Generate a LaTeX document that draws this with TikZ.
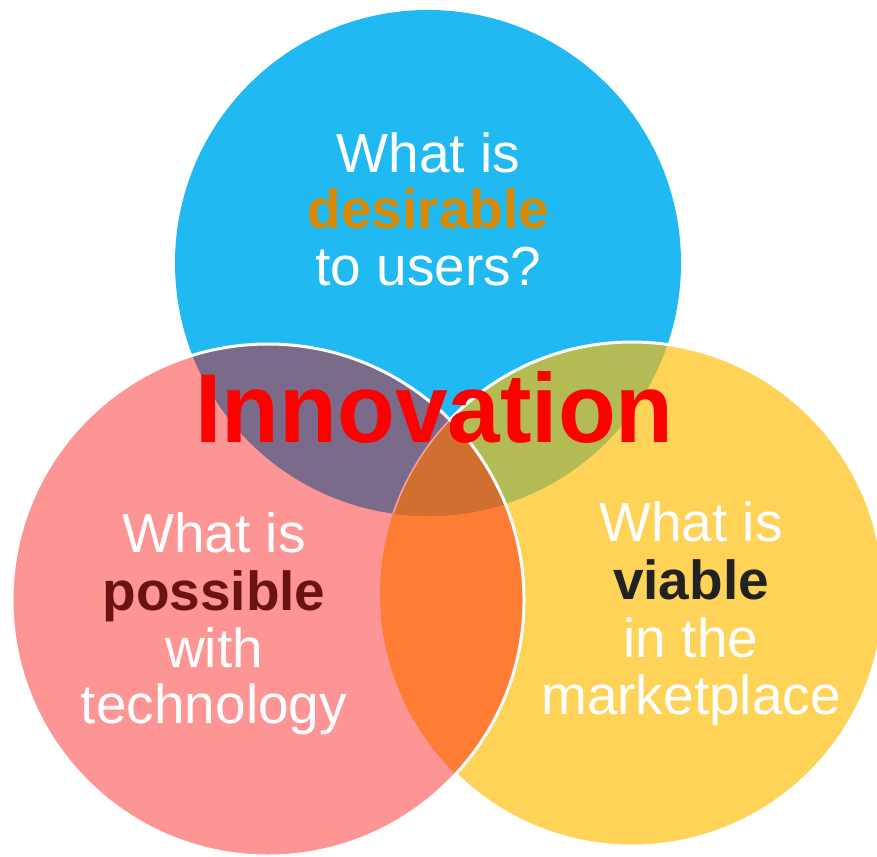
\documentclass[tikz,border=0pt]{standalone}
\usepackage{fontspec}
\setmainfont{Liberation Sans}
\definecolor{cBlue}{HTML}{21B9F1}
\definecolor{cPink}{HTML}{FE9595}
\definecolor{cYellow}{HTML}{FED358}
\definecolor{cPurple}{HTML}{7B6B8A}
\definecolor{cOlive}{HTML}{B3BC54}
\definecolor{cOrange}{HTML}{FE7C33}
\definecolor{cCenter}{HTML}{D06F30}
\definecolor{cDesir}{HTML}{DA8A00}
\definecolor{cPoss}{HTML}{6B1212}
\definecolor{cViab}{HTML}{222222}
\definecolor{cEdge}{HTML}{FFA0A0}
\begin{document}
\begin{tikzpicture}[x=1pt,y=-1pt,
  lbl/.style={anchor=base, inner sep=0pt, text=white, font=\fontsize{55}{60}\selectfont},
  boldlbl/.style={anchor=base, inner sep=0pt, font=\fontsize{55}{60}\selectfont\bfseries},
  edge/.style={line width=3pt, draw=white}]
\useasboundingbox (0,0) rectangle (877,856);
% blue and yellow discs with their overlap
\fill[cBlue] (428,263) circle[radius=253pt];
\fill[cYellow] (632,594) circle[radius=252pt];
\begin{scope}
  \clip (428,263) circle[radius=253pt];
  \fill[cOlive] (632,594) circle[radius=252pt];
\end{scope}
\draw[edge] (632,594) circle[radius=252pt];
% pink disc and its overlaps
\fill[cPink] (268,600) circle[radius=256pt];
\begin{scope}
  \clip (268,600) circle[radius=256pt];
  \fill[cOrange] (632,594) circle[radius=252pt];
\end{scope}
\begin{scope}
  \clip (428,263) circle[radius=253pt];
  \fill[cPurple] (268,600) circle[radius=256pt];
\end{scope}
\begin{scope}
  \clip (428,263) circle[radius=253pt];
  \clip (268,600) circle[radius=256pt];
  \fill[cCenter] (632,594) circle[radius=252pt];
  \draw[line width=1.5pt, draw=cEdge] (632,594) circle[radius=252pt];
\end{scope}
\draw[edge] (268,600) circle[radius=256pt];
% blue texts
\node[lbl] (b1) at (428.5,172) {What is};
\node[boldlbl, text=cDesir] (b2) at (428.5,228) {desirable};
\node[lbl] (b3) at (428.5,285) {to users?};
% red texts
\node[lbl] (r1) at (214,552) {What is};
\node[boldlbl, text=cPoss] (r2) at (214,610) {possible};
\node[lbl] (r3) at (214,667) {with};
\node[lbl] (r4) at (214,723) {technology};
% yellow texts
\node[lbl] (y1) at (691,541) {What is};
\node[boldlbl, text=cViab] (y2) at (691,599) {viable};
\node[lbl] (y3) at (691,657) {in the};
\node[lbl] (y4) at (691,714) {marketplace};
% title
\node[anchor=base, inner sep=0pt, text=red, font=\fontsize{98}{100}\selectfont\bfseries] (innov) at (434.5,442) {\scalebox{0.965}[1]{Innovation}};
\end{tikzpicture}
\end{document}
